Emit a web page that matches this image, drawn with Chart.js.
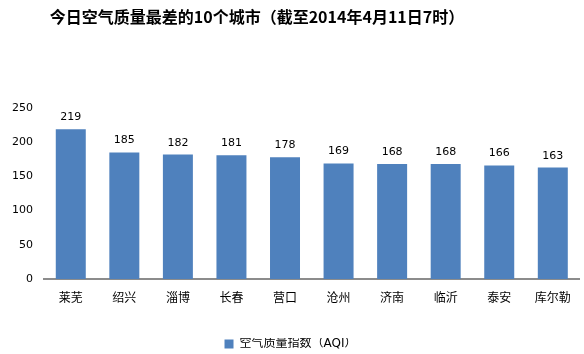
<!DOCTYPE html>
<html>
<head>
<meta charset="utf-8">
<script src="https://cdn.jsdelivr.net/npm/chart.js@4/dist/chart.umd.min.js"></script>
<style>
    html, body { margin: 0; padding: 0; background: #fff; }
    #wrap { width: 584px; height: 354px; }
</style>
</head>
<body>
<div id="wrap"><canvas id="aqiChart"></canvas></div>
<script>
const chartTitle = '今日空气质量最差的10个城市（截至2014年4月11日7时）';
const cities = ['莱芜', '绍兴', '淄博', '长春', '营口', '沧州', '济南', '临沂', '泰安', '库尔勒'];
const aqiValues = [219, 185, 182, 181, 178, 169, 168, 168, 166, 163];
const yTicks = [0, 50, 100, 150, 200, 250];

const fontFamily = '"DejaVu Sans", "Noto Sans CJK SC", sans-serif';

// заголовок рисуем сами, он смещён влево относительно центра
const titleDraw = {
    id: 'titleDraw',
    afterDraw(chart) {
        const ctx = chart.ctx;
        ctx.save();
        ctx.fillStyle = '#000';
        ctx.font = 'bold 16px "Noto Sans CJK SC", sans-serif';
        ctx.textAlign = 'center';
        ctx.textBaseline = 'middle';
        ctx.fillText(chartTitle, 257, 17);
        ctx.restore();
    }
};

// легенду опускаем ниже
const legendShift = {
    id: 'legendShift',
    afterLayout(chart) {
        chart.legend.top += 6;
        chart.legend.bottom += 6;
    }
};

// подписи значений над столбцами
const valueLabels = {
    id: 'valueLabels',
    afterDatasetsDraw(chart) {
        const ctx = chart.ctx;
        const meta = chart.getDatasetMeta(0);
        ctx.save();
        ctx.fillStyle = '#000';
        ctx.font = '11px ' + fontFamily;
        ctx.textAlign = 'center';
        ctx.textBaseline = 'alphabetic';
        meta.data.forEach((bar, i) => {
            ctx.fillText(chart.data.datasets[0].data[i], bar.x, bar.y - 9);
        });
        ctx.restore();
    }
};

new Chart(document.getElementById('aqiChart'), {
    type: 'bar',
    data: {
        labels: cities,
        datasets: [{
            label: '空气质量指数（AQI）',
            data: aqiValues,
            backgroundColor: '#4F81BD',
            barPercentage: 0.56,
            categoryPercentage: 1
        }]
    },
    options: {
        responsive: true,
        maintainAspectRatio: false,
        animation: false,
        layout: {padding: {left: 1, right: 4, top: 108, bottom: 0}},
        plugins: {
            title: {display: false},
            legend: {
                position: 'bottom',
                labels: {
                    boxWidth: 9,
                    boxHeight: 9,
                    color: '#000',
                    padding: 0,
                    font: {size: 12, family: fontFamily}
                }
            },
            tooltip: {enabled: false}
        },
        scales: {
            x: {
                afterFit: axis => {
                    axis.height = 53;
                },
                grid: {display: false, drawTicks: false},
                border: {color: '#8c8c8c', width: 2},
                ticks: {color: '#000', padding: 13, font: {size: 12, family: fontFamily}}
            },
            y: {
                min: 0,
                max: 250,
                afterBuildTicks: axis => {
                    axis.ticks = yTicks.map(v => ({value: v}));
                },
                grid: {display: false, drawTicks: false},
                border: {display: false},
                ticks: {color: '#000', padding: 11, font: {size: 11, family: fontFamily}}
            }
        }
    },
    plugins: [titleDraw, legendShift, valueLabels]
});
</script>
</body>
</html>
